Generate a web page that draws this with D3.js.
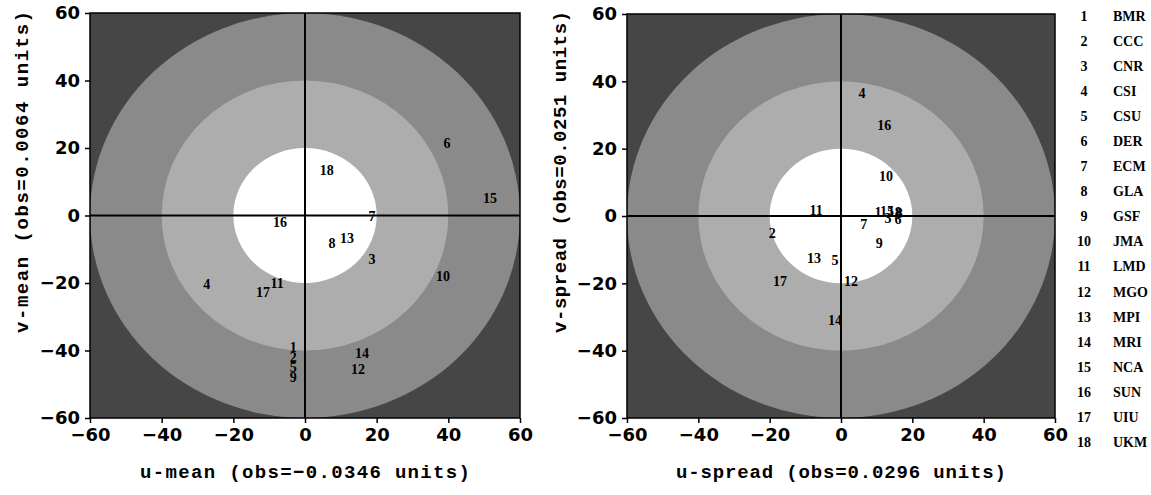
<!DOCTYPE html>
<html>
<head>
<meta charset="utf-8">
<script src="https://cdn.jsdelivr.net/npm/d3@7"></script>
<style>
  body { margin: 0; background: #fff; }
  svg { display: block; }
  .tick text { font-family: "DejaVu Sans", sans-serif; font-weight: bold; font-size: 18px; fill: #000; }
  .tick line { stroke: #000; stroke-width: 1.5; }
  .title { font-family: "Liberation Mono", monospace; font-weight: bold; font-size: 19px; fill: #000; }
  .lbl { font-family: "Liberation Serif", serif; font-weight: bold; font-size: 14px; fill: #000; }
  .key { font-family: "Liberation Serif", serif; font-weight: bold; font-size: 14px; fill: #000; }
</style>
</head>
<body>
<svg id="chart"></svg>
<script>
const width = 1151;
const height = 495;

const tickValues = [-60, -40, -20, 0, 20, 40, 60];
const modelIds = d3.range(1, 19);
const modelCodes = ["BMR", "CCC", "CNR", "CSI", "CSU", "DER", "ECM", "GLA", "GSF",
  "JMA", "LMD", "MGO", "MPI", "MRI", "NCA", "SUN", "UIU", "UKM"];

// shaded rings, outer radius in data units
const ringRadii = [60, 40, 20];
const ringFills = ["#8a8a8a", "#adadad", "#ffffff"];
const cornerFill = "#464646";

// panel 1: u-mean / v-mean, one value per model (1..18)
const meanU = [-3.3, -3.3, 18.7, -27.4, -3.3, 39.6, 18.7, 7.5, -3.3,
  38.5, -7.8, 14.8, 11.7, 15.9, 51.6, -7, -11.7, 6.1];
const meanV = [-39, -42, -13, -20.4, -45, 21.6, -0.3, -8.3, -48,
  -18, -20.1, -45.5, -6.8, -40.8, 5.3, -2, -22.8, 13.6];

// panel 2: u-spread / v-spread
const spreadU = [10.4, -19.3, 13.2, 5.9, -1.7, 16, 6.4, 16.3, 10.7,
  12.6, -7, 2.8, -7.6, -1.7, 12.9, 12.1, -17.1, 15.1];
const spreadV = [1.2, -5, -0.6, 36.5, -13, -0.9, -2.4, 0.9, -8,
  11.9, 1.8, -19.3, -12.5, -30.9, 1.5, 27, -19.3, 1.2];

const panels = [
  { id: "mean", u: meanU, v: meanV, xr: [90, 520], yr: [418, 13], titleY: 172, titleX: 22,
    xTitle: "u-mean (obs=−0.0346 units)", yTitle: "v-mean (obs=0.0064 units)" },
  { id: "spread", u: spreadU, v: spreadV, xr: [627, 1055], yr: [418, 14], titleY: 172, titleX: 560,
    xTitle: "u-spread (obs=0.0296 units)", yTitle: "v-spread (obs=0.0251 units)" },
];

const svg = d3.select("#chart")
  .attr("width", width)
  .attr("height", height);

panels.forEach(drawPanel);
drawKey();

function drawPanel(p) {
  const x = d3.scaleLinear().domain([-60, 60]).range(p.xr);
  const y = d3.scaleLinear().domain([-60, 60]).range(p.yr);
  const g = svg.append("g");

  const clipId = `clip-${p.id}`;
  g.append("clipPath").attr("id", clipId)
    .append("rect")
    .attr("x", x(-60)).attr("y", y(60))
    .attr("width", x(60) - x(-60)).attr("height", y(-60) - y(60));

  const bg = g.append("g").attr("clip-path", `url(#${clipId})`);

  bg.append("rect")
    .attr("x", x(-60)).attr("y", y(60))
    .attr("width", x(60) - x(-60)).attr("height", y(-60) - y(60))
    .attr("fill", cornerFill);

  bg.selectAll("ellipse")
    .data(ringRadii)
    .join("ellipse")
    .attr("cx", x(0))
    .attr("cy", y(0))
    .attr("rx", (r) => x(r) - x(0))
    .attr("ry", (r) => y(0) - y(r))
    .attr("fill", (r, i) => ringFills[i]);

  // zero lines
  g.append("line")
    .attr("x1", x(0)).attr("x2", x(0))
    .attr("y1", y(60)).attr("y2", y(-60))
    .attr("stroke", "#000").attr("stroke-width", 2);
  g.append("line")
    .attr("x1", x(-60)).attr("x2", x(60))
    .attr("y1", y(0)).attr("y2", y(0))
    .attr("stroke", "#000").attr("stroke-width", 2);

  // frame
  g.append("rect")
    .attr("x", x(-60)).attr("y", y(60))
    .attr("width", x(60) - x(-60)).attr("height", y(-60) - y(60))
    .attr("fill", "none").attr("stroke", "#000").attr("stroke-width", 1.5);

  // model numbers
  g.append("g")
    .selectAll("text")
    .data(modelIds)
    .join("text")
    .attr("class", "lbl")
    .attr("x", (d) => x(p.u[d - 1]))
    .attr("y", (d) => y(p.v[d - 1]))
    .attr("text-anchor", "middle")
    .attr("dy", "0.35em")
    .text((d) => d);

  const xAxis = g.append("g")
    .attr("transform", `translate(0,${y(-60)})`)
    .call(d3.axisBottom(x).tickValues(tickValues).tickSize(5).tickSizeOuter(0).tickPadding(5));
  xAxis.select(".domain").remove();

  const yAxis = g.append("g")
    .attr("transform", `translate(${x(-60)},0)`)
    .call(d3.axisLeft(y).tickValues(tickValues).tickSize(5).tickSizeOuter(0).tickPadding(5));
  yAxis.select(".domain").remove();

  g.append("text")
    .attr("class", "title")
    .attr("x", x(0))
    .attr("y", 478)
    .attr("text-anchor", "middle")
    .attr("textLength", 330)
    .text(p.xTitle);

  g.append("text")
    .attr("class", "title")
    .attr("transform", `translate(${p.titleX + 6},${p.titleY}) rotate(-90)`)
    .attr("text-anchor", "middle")
    .attr("textLength", 322)
    .text(p.yTitle);
}

function drawKey() {
  const ky = d3.scalePoint().domain(modelIds).range([16, 442]);
  const key = svg.append("g");

  key.selectAll("text.num")
    .data(modelIds)
    .join("text")
    .attr("class", "key num")
    .attr("x", 1084)
    .attr("y", (d) => ky(d))
    .attr("dy", "0.35em")
    .attr("text-anchor", "middle")
    .text((d) => d);

  key.selectAll("text.code")
    .data(modelIds)
    .join("text")
    .attr("class", "key code")
    .attr("x", 1113)
    .attr("y", (d) => ky(d))
    .attr("dy", "0.35em")
    .text((d) => modelCodes[d - 1]);
}
</script>
</body>
</html>
